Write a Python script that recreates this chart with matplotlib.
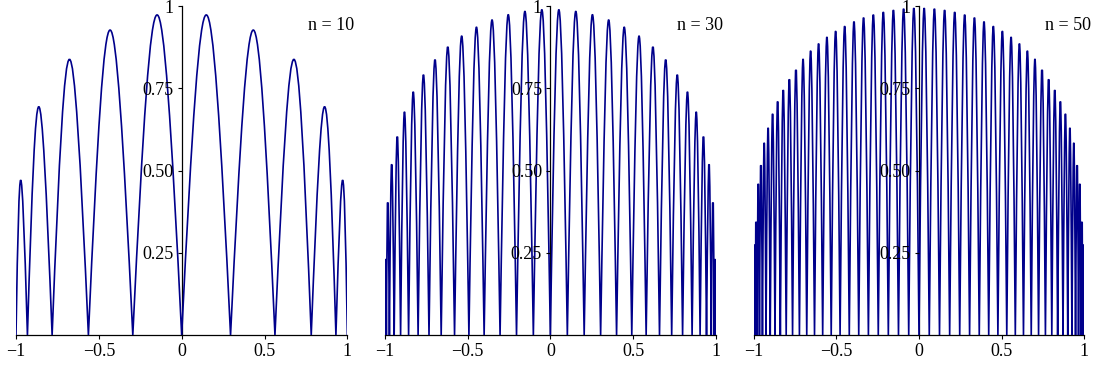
import matplotlib
matplotlib.use("Agg")
import matplotlib.pyplot as plt
from matplotlib.path import Path
from matplotlib.patches import PathPatch

plt.rcParams["font.family"] = ["Liberation Serif", "DejaVu Serif"]

NAVY = "#00008b"

# zeros (including the end points), peak positions and peak heights
zeros10 = [-1, -0.931, -0.782, -0.563, -0.295, 0, 0.295, 0.563, 0.782, 0.931, 1]
peak_x10 = [-0.975, -0.866, -0.680, -0.434, -0.149, 0.149, 0.434, 0.680, 0.866, 0.975]
peak_y10 = [0.471, 0.694, 0.838, 0.927, 0.973, 0.973, 0.927, 0.838, 0.694, 0.471]

zeros30 = [-1, -0.9917, -0.9733, -0.9445, -0.9057, -0.8573, -0.7998, -0.7339, -0.6602,
           -0.5794, -0.4925, -0.4005, -0.3041, -0.2046, -0.1028, 0,
           0.1028, 0.2046, 0.3041, 0.4005, 0.4925, 0.5794, 0.6602, 0.7339, 0.7998,
           0.8573, 0.9057, 0.9445, 0.9733, 0.9917, 1]
peak_x30 = [-0.9970, -0.9838, -0.9602, -0.9263, -0.8827, -0.8297, -0.7679, -0.6979,
            -0.6206, -0.5367, -0.4471, -0.3528, -0.2547, -0.1539, -0.0515,
            0.0515, 0.1539, 0.2547, 0.3528, 0.4471, 0.5367, 0.6206, 0.6979, 0.7679,
            0.8297, 0.8827, 0.9263, 0.9602, 0.9838, 0.9970]
peak_y30 = [0.275, 0.419, 0.523, 0.608, 0.679, 0.740, 0.792, 0.838, 0.877, 0.909,
            0.936, 0.958, 0.974, 0.984, 0.989,
            0.989, 0.984, 0.974, 0.958, 0.936, 0.909, 0.877, 0.838, 0.792, 0.740,
            0.679, 0.608, 0.523, 0.419, 0.275]

zeros50 = [-1, -0.9970, -0.9902, -0.9796, -0.9652, -0.9471, -0.9254, -0.9000, -0.8712,
           -0.8389, -0.8035, -0.7649, -0.7234, -0.6791, -0.6321, -0.5827, -0.5311,
           -0.4774, -0.4218, -0.3646, -0.3061, -0.2463, -0.1855, -0.1241, -0.0622, 0,
           0.0622, 0.1241, 0.1855, 0.2463, 0.3061, 0.3646, 0.4218, 0.4774, 0.5311,
           0.5827, 0.6321, 0.6791, 0.7234, 0.7649, 0.8035, 0.8389, 0.8712, 0.9000,
           0.9254, 0.9471, 0.9652, 0.9796, 0.9902, 0.9970, 1]
peak_x50 = [-0.9989, -0.9941, -0.9854, -0.9729, -0.9567, -0.9367, -0.9131, -0.8860,
            -0.8555, -0.8216, -0.7846, -0.7445, -0.7016, -0.6559, -0.6077, -0.5572,
            -0.5045, -0.4498, -0.3934, -0.3355, -0.2763, -0.2160, -0.1549, -0.0932, -0.0311,
            0.0311, 0.0932, 0.1549, 0.2160, 0.2763, 0.3355, 0.3934, 0.4498, 0.5045,
            0.5572, 0.6077, 0.6559, 0.7016, 0.7445, 0.7846, 0.8216, 0.8555, 0.8860,
            0.9131, 0.9367, 0.9567, 0.9729, 0.9854, 0.9941, 0.9989]
peak_y50 = [0.215, 0.328, 0.411, 0.478, 0.537, 0.589, 0.635, 0.678, 0.716, 0.751,
            0.784, 0.813, 0.840, 0.865, 0.887, 0.907, 0.925, 0.940, 0.954, 0.966,
            0.975, 0.983, 0.989, 0.993, 0.995,
            0.995, 0.993, 0.989, 0.983, 0.975, 0.966, 0.954, 0.940, 0.925, 0.907,
            0.887, 0.865, 0.840, 0.813, 0.784, 0.751, 0.716, 0.678, 0.635, 0.589,
            0.537, 0.478, 0.411, 0.328, 0.215]

panels = [("n = 10", zeros10, peak_x10, peak_y10),
          ("n = 30", zeros30, peak_x30, peak_y30),
          ("n = 50", zeros50, peak_x50, peak_y50)]

x_ticks = [-1, -0.5, 0, 0.5, 1]
x_labels = ["\u22121", "\u22120.5", "0", "0.5", "1"]
y_ticks = [0.25, 0.5, 0.75, 1]
y_labels = ["0.25", "0.50", "0.75", "1"]

# axes boxes in figure fraction (left, bottom, width, height)
boxes = [(0.01456, 0.0921, 0.3015, 0.8916),
         (0.35032, 0.0921, 0.3009, 0.8916),
         (0.68581, 0.0921, 0.3008, 0.8916)]


def arches(zeros, px, py, k=0.85):
    # one smooth arch per hump: zero -> peak -> next zero (cubic bezier segments)
    verts = [(zeros[0], 0.0)]
    codes = [Path.MOVETO]
    for a, b, p, h in zip(zeros[:-1], zeros[1:], px, py):
        verts += [(a + k * (p - a), 4 * h / 3), (b - k * (b - p), 4 * h / 3), (b, 0.0)]
        codes += [Path.CURVE4] * 3
    return Path(verts, codes)


fig = plt.figure(figsize=(10.99, 3.69), dpi=100)
for (label, zs, px, py), box in zip(panels, boxes):
    ax = fig.add_axes(box)
    ax.add_patch(PathPatch(arches(zs, px, py), fill=False, edgecolor=NAVY,
                           linewidth=1.2, joinstyle="round"))
    ax.set_xlim(-1, 1)
    ax.set_ylim(0, 1)
    ax.patch.set_alpha(0)
    for s in ("top", "right"):
        ax.spines[s].set_visible(False)
    ax.spines["left"].set_position(("data", 0))
    for s in ("left", "bottom"):
        ax.spines[s].set_linewidth(0.9)
        ax.spines[s].set_zorder(0.5)
    ax.set_xticks(x_ticks, x_labels)
    ax.set_yticks(y_ticks, y_labels)
    ax.tick_params(axis="both", direction="out", length=3, width=0.8,
                   labelsize=13, pad=3)
    ax.text(1.021, 0.927, label, transform=ax.transAxes, ha="right",
            va="baseline", fontsize=13)

fig.savefig("out.png", dpi=100)
